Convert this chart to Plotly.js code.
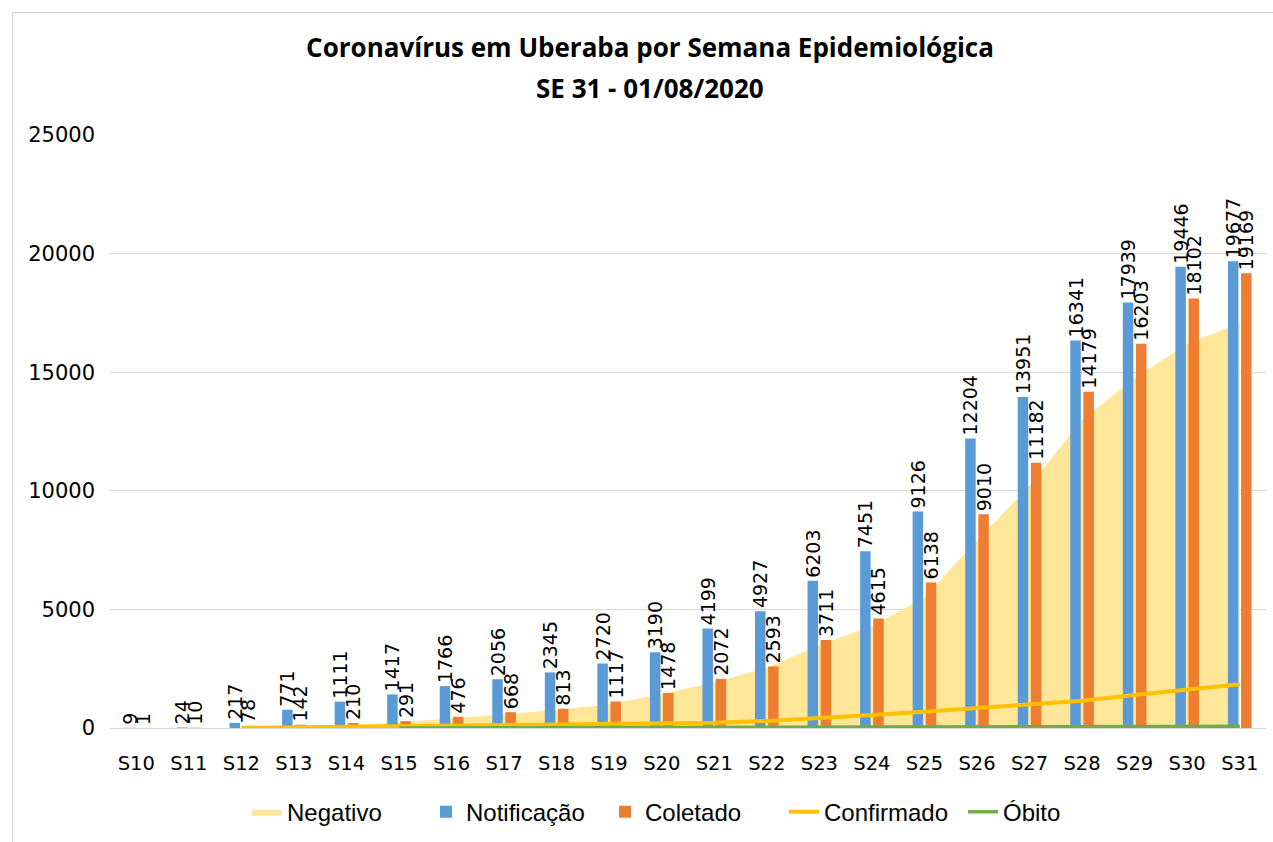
<!DOCTYPE html>
<html>
<head>
<meta charset="utf-8">
<script src="https://cdn.plot.ly/plotly-3.0.1.min.js"></script>
<style>
  html, body { margin: 0; padding: 0; background: #fff; }
  #wrap { position: relative; width: 1273px; height: 842px; }
  #chart { width: 1273px; height: 842px; }
  #frame { position: absolute; left: 12px; top: 12px; width: 1261px; height: 830px;
           border-left: 1px solid #d4d4d4; border-top: 1px solid #d4d4d4; pointer-events: none; }
</style>
</head>
<body>
<div id="wrap"><div id="chart"></div><div id="frame"></div></div>
<script>
const categories = ['S10','S11','S12','S13','S14','S15','S16','S17','S18','S19','S20','S21','S22','S23','S24','S25','S26','S27','S28','S29','S30','S31'];
const negativo = [0,0,0,60,120,230,400,590,760,1000,1430,1920,2540,3500,4300,5500,7900,10200,13000,14750,16200,17050];
const notificacao = [9,24,217,771,1111,1417,1766,2056,2345,2720,3190,4199,4927,6203,7451,9126,12204,13951,16341,17939,19446,19677];
const coletado = [1,10,78,142,210,291,476,668,813,1117,1478,2072,2593,3711,4615,6138,9010,11182,14179,16203,18102,19169];
const confirmado = [null,null,10,30,50,70,90,110,130,150,180,220,300,410,550,690,830,970,1150,1390,1630,1840];
const obito = [null,null,null,null,null,1,3,5,7,9,11,14,17,21,25,30,36,42,50,58,66,75];
const yTicks = [0,5000,10000,15000,20000,25000];

const labelFont = {family: 'DejaVu Sans, sans-serif', size: 19, color: '#000'};
const titleFont = {family: 'Open Sans, Liberation Sans, sans-serif', size: 26, weight: 700, color: '#000'};

const traces = [
  {name: 'Negativo', type: 'scatter', mode: 'lines', x: categories, y: negativo,
   fill: 'tozeroy', fillcolor: '#FFE699', line: {width: 0, color: '#FFE699'},
   xaxis: 'x', yaxis: 'y', hoverinfo: 'x+y'},
  {name: 'Notificação', type: 'bar', x: categories, y: notificacao,
   marker: {color: '#5B9BD5'}, text: notificacao.map(String), textposition: 'outside',
   textangle: -90, textfont: labelFont, constraintext: 'none', cliponaxis: false,
   xaxis: 'x2', yaxis: 'y2'},
  {name: 'Coletado', type: 'bar', x: categories, y: coletado,
   marker: {color: '#ED7D31'}, text: coletado.map(String), textposition: 'outside',
   textangle: -90, textfont: labelFont, constraintext: 'none', cliponaxis: false,
   xaxis: 'x2', yaxis: 'y2'},
  {name: 'Confirmado', type: 'scatter', mode: 'lines', x: categories, y: confirmado,
   line: {color: '#FFC000', width: 4}, xaxis: 'x2', yaxis: 'y2'},
  {name: 'Óbito', type: 'scatter', mode: 'lines', x: categories, y: obito,
   line: {color: '#70AD47', width: 3.5}, xaxis: 'x2', yaxis: 'y2'}
];

const layout = {
  width: 1273, height: 842,
  margin: {l: 110, r: 7, t: 135, b: 114},
  paper_bgcolor: '#fff', plot_bgcolor: '#fff',
  font: {family: 'DejaVu Sans, sans-serif', color: '#000'},
  title: {text: 'Coronavírus em Uberaba por Semana Epidemiológica',
          font: titleFont,
          xref: 'container', x: 650/1273, xanchor: 'center',
          yref: 'container', y: 1 - 48/842, yanchor: 'middle'},
  annotations: [{text: 'SE 31 - 01/08/2020', showarrow: false,
                 xref: 'paper', yref: 'paper', x: (650-110)/1156, y: (728-88)/593,
                 xanchor: 'center', yanchor: 'middle', font: titleFont}],
  barmode: 'group', bargap: 0.5, bargroupgap: 0.2,
  showlegend: true,
  legend: {orientation: 'h', x: (247-110)/1156, xanchor: 'left', y: -0.1417, yanchor: 'middle',
           font: {family: 'Liberation Sans, Arial, sans-serif', size: 24, color: '#000'},
           traceorder: 'normal', itemwidth: 30, entrywidth: 134, entrywidthmode: 'pixels'},
  xaxis: {type: 'category', categoryarray: categories, range: [-0.5, 21.5],
          showgrid: false, showline: true, linecolor: '#d9d9d9', linewidth: 1,
          ticks: '', ticklabelstandoff: 18,
          tickfont: {family: 'DejaVu Sans, sans-serif', size: 19.5, color: '#000'}},
  yaxis: {range: [0, 25000], tickvals: yTicks, ticktext: yTicks.map(String),
          showgrid: true, gridcolor: '#d9d9d9', gridwidth: 1, zeroline: false,
          showline: false, ticks: '', ticklabelstandoff: 14,
          tickfont: {family: 'DejaVu Sans, sans-serif', size: 21, color: '#000'}},
  xaxis2: {type: 'category', categoryarray: categories, range: [-0.5, 21.5],
           overlaying: 'x', visible: false},
  yaxis2: {range: [0, 25000], overlaying: 'y', visible: false}
};

Plotly.newPlot('chart', traces, layout, {displayModeBar: false, staticPlot: true});
</script>
</body>
</html>
